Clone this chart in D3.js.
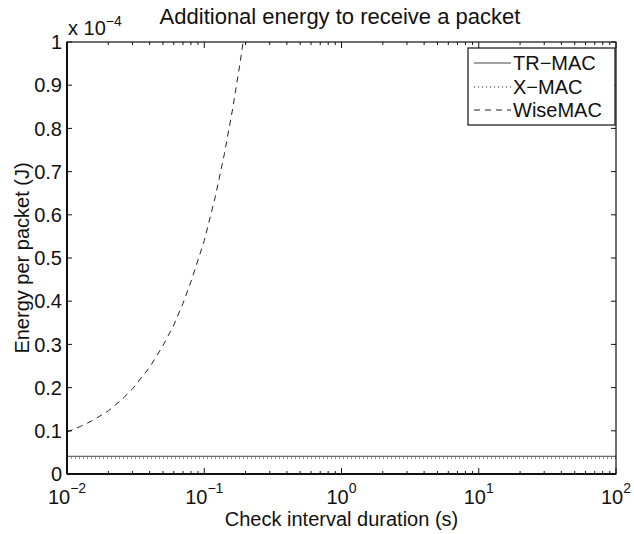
<!DOCTYPE html>
<html><head><meta charset="utf-8">
<script src="https://cdn.jsdelivr.net/npm/d3@7"></script>
<style>body{margin:0;background:#fff}text{font-family:"Liberation Sans",Arial,sans-serif;fill:#111}</style>
</head><body>
<svg id="c" width="634" height="534"></svg>
<script>
const title = "Additional energy to receive a packet";
const xLabel = "Check interval duration (s)";
const yLabel = "Energy per packet (J)";
const yTicks = [0,0.1,0.2,0.3,0.4,0.5,0.6,0.7,0.8,0.9,1];
const yTickLabels = ["0","0.1","0.2","0.3","0.4","0.5","0.6","0.7","0.8","0.9","1"];
const xDecades = [-2,-1,0,1,2];
const seriesNames = ["TR-MAC","X-MAC","WiseMAC"];
// x values (s) and y values (x 10^-4 J)
const trX = [0.01, 100];
const trY = [0.041, 0.041];
const xmX = [0.01, 100];
const xmY = [0.037, 0.037];
const wiseX = [0.01,0.0125,0.015,0.02,0.025,0.03,0.04,0.05,0.06,0.07,0.08,0.1,0.12,0.14,0.16,0.18,0.192];
const wiseY = [0.097,0.11,0.122,0.146,0.172,0.197,0.247,0.297,0.345,0.395,0.445,0.54,0.64,0.74,0.84,0.94,1.0];

const svg = d3.select("#c");
const L=67,R=616,T=42,B=474;
const x = d3.scaleLog().domain([0.01,100]).range([L,R]);
const y = d3.scaleLinear().domain([0,1]).range([B,T]);

svg.append("rect").attr("x",L).attr("y",T).attr("width",R-L).attr("height",B-T).attr("fill","#fff");

svg.append("clipPath").attr("id","clip").append("rect").attr("x",L).attr("y",T).attr("width",R-L).attr("height",B-T);

const line = d3.line().x(d=>x(d[0])).y(d=>y(d[1]));
const g = svg.append("g").attr("clip-path","url(#clip)");
g.append("path").datum(d3.zip(trX,trY)).attr("d",line).attr("fill","none").attr("stroke","#444").attr("stroke-width",1);
g.append("path").datum(d3.zip(xmX,xmY)).attr("d",line).attr("fill","none").attr("stroke","#222").attr("stroke-width",1).attr("stroke-dasharray","1,3");
g.append("path").datum(d3.zip(wiseX,wiseY)).attr("d",line).attr("fill","none").attr("stroke","#222").attr("stroke-width",1).attr("stroke-dasharray","6,5");

const ax = svg.append("g").attr("stroke","#111").attr("stroke-width",1);
yTicks.forEach(v=>{
  ax.append("line").attr("x1",L).attr("x2",L+5).attr("y1",y(v)).attr("y2",y(v));
  ax.append("line").attr("x1",R).attr("x2",R-5).attr("y1",y(v)).attr("y2",y(v));
});
xDecades.forEach((d,i)=>{
  const v=Math.pow(10,d);
  ax.append("line").attr("x1",x(v)).attr("x2",x(v)).attr("y1",B).attr("y2",B-6);
  ax.append("line").attr("x1",x(v)).attr("x2",x(v)).attr("y1",T).attr("y2",T+6);
  if(i<xDecades.length-1){
    for(let k=2;k<=9;k++){
      const m=k*v;
      ax.append("line").attr("x1",x(m)).attr("x2",x(m)).attr("y1",B).attr("y2",B-3);
      ax.append("line").attr("x1",x(m)).attr("x2",x(m)).attr("y1",T).attr("y2",T+3);
    }
  }
});
svg.append("rect").attr("x",L).attr("y",T).attr("width",R-L).attr("height",B-T).attr("fill","none").attr("stroke","#111").attr("stroke-width",1.2);
svg.append("line").attr("x1",L).attr("x2",L).attr("y1",T).attr("y2",B).attr("stroke","#111").attr("stroke-width",2);
svg.append("line").attr("x1",L).attr("x2",R).attr("y1",B).attr("y2",B).attr("stroke","#111").attr("stroke-width",2);

yTicks.forEach((v,i)=>{
  svg.append("text").attr("x",L-5).attr("y",y(v)).attr("dy","0.36em").attr("text-anchor","end").attr("font-size",20).text(yTickLabels[i]);
});
xDecades.forEach(d=>{
  const t=svg.append("text").attr("x",x(Math.pow(10,d))).attr("y",B+30).attr("text-anchor","middle").attr("font-size",20);
  t.append("tspan").text("10");
  t.append("tspan").attr("dy",-11).attr("font-size",14).text(d<0?"\u2212"+(-d):String(d));
});
const ex=svg.append("text").attr("x",L+1).attr("y",T-7).attr("font-size",20);
ex.append("tspan").text("x 10");
ex.append("tspan").attr("dy",-9).attr("font-size",14).text("\u22124");

svg.append("text").attr("x",340).attr("y",24).attr("text-anchor","middle").attr("font-size",22).text(title);
svg.append("text").attr("x",(L+R)/2).attr("y",526).attr("text-anchor","middle").attr("font-size",20).text(xLabel);
svg.append("text").attr("transform","translate(29,"+((T+B)/2)+") rotate(-90)").attr("text-anchor","middle").attr("font-size",20).text(yLabel);

const lg=svg.append("g");
lg.append("rect").attr("x",468).attr("y",48).attr("width",147).attr("height",77).attr("fill","#fff").attr("stroke","#111").attr("stroke-width",1.2);
const dashes=[null,"1,3","6,5"];
const strokes=["#444","#222","#222"];
const rowY=[63,87,110];
seriesNames.forEach((n,i)=>{
  const l=lg.append("line").attr("x1",474).attr("x2",511).attr("y1",rowY[i]).attr("y2",rowY[i]).attr("stroke",strokes[i]).attr("stroke-width",1);
  if(dashes[i]) l.attr("stroke-dasharray",dashes[i]);
  lg.append("text").attr("x",513).attr("y",rowY[i]).attr("dy","0.36em").attr("font-size",20).text(n.replace("-","\u2212"));
});
</script>
</body></html>
